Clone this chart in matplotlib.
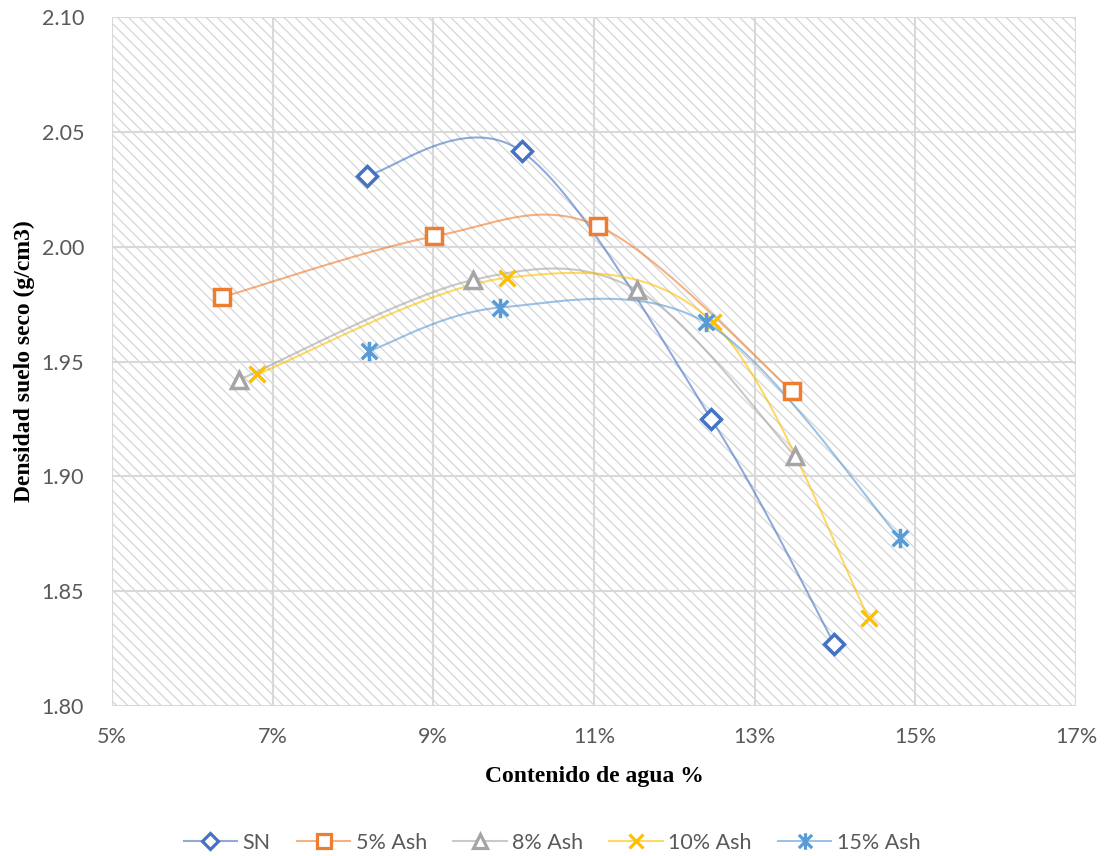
import numpy as np
import matplotlib
matplotlib.use("Agg")
import matplotlib.pyplot as plt
from matplotlib.path import Path
from matplotlib.patches import Rectangle
from matplotlib.ticker import FixedLocator, FuncFormatter

# Moisture content (%) and dry density (g/cm3) for each mix
sn_x = [8.17, 10.10, 12.46, 13.99]
sn_y = [2.031, 2.0415, 1.925, 1.827]
ash5_x = [6.37, 9.01, 11.05, 13.47]
ash5_y = [1.978, 2.0045, 2.009, 1.937]
ash8_x = [6.58, 9.49, 11.54, 13.50]
ash8_y = [1.942, 1.9855, 1.981, 1.909]
ash10_x = [6.81, 9.92, 12.48, 14.42]
ash10_y = [1.9445, 1.9865, 1.967, 1.8385]
ash15_x = [8.20, 9.83, 12.39, 14.81]
ash15_y = [1.9545, 1.9735, 1.967, 1.873]

series_names = ["SN", "5% Ash", "8% Ash", "10% Ash", "15% Ash"]
x_ticks = [5, 7, 9, 11, 13, 15, 17]
y_ticks = [1.80, 1.85, 1.90, 1.95, 2.00, 2.05, 2.10]

plt.rcParams["font.family"] = ["Lato", "DejaVu Sans"]
plt.rcParams["hatch.linewidth"] = 0.9
plt.rcParams["hatch.color"] = "#d6d6d6"

fig = plt.figure(figsize=(11.04, 8.56), dpi=100)
ax = fig.add_axes([0.1014, 0.1752, 0.8732, 0.8049])
ax.set_xlim(5, 17)
ax.set_ylim(1.80, 2.10)

# hatched plot area
ax.add_patch(Rectangle((0, 0), 1, 1, transform=ax.transAxes, facecolor="white",
                       edgecolor="#d6d6d6", hatch="\\\\\\", linewidth=0, zorder=0))

grid_c = "#d9d9d9"
for xv in x_ticks:
    ax.axvline(xv, color=grid_c, lw=1.5, zorder=1)
for yv in y_ticks:
    ax.axhline(yv, color=grid_c, lw=1.5, zorder=1)
for s in ax.spines.values():
    s.set_visible(False)

ax.xaxis.set_major_locator(FixedLocator(x_ticks))
ax.yaxis.set_major_locator(FixedLocator(y_ticks))
ax.xaxis.set_major_formatter(FuncFormatter(lambda v, p: f"{v:.0f}%"))
ax.yaxis.set_major_formatter(FuncFormatter(lambda v, p: f"{v:.2f}"))
ax.tick_params(length=0, labelsize=15.5, colors="#595959")
ax.tick_params(axis="x", pad=15)
ax.tick_params(axis="y", pad=20)

ax.set_xlabel("Contenido de agua %", family="Liberation Serif", fontweight="bold",
              fontsize=17, color="black", labelpad=14)
ax.set_ylabel("Densidad suelo seco (g/cm3)", family="Liberation Serif", fontweight="bold",
              fontsize=17, color="black", labelpad=5)


def smooth_curve(xs, ys, n=60):
    """Cardinal-spline smoothing in display space (Bezier, tension 1/6)."""
    pts = ax.transData.transform(np.column_stack([xs, ys]))
    P = np.vstack([pts[0], pts, pts[-1]])
    out = []
    t = np.linspace(0, 1, n)[:, None]
    for i in range(1, len(P) - 2):
        p0, p3 = P[i], P[i + 1]
        p1 = p0 + (P[i + 1] - P[i - 1]) / 6.0
        p2 = p3 - (P[i + 2] - P[i]) / 6.0
        seg = ((1 - t) ** 3) * p0 + 3 * ((1 - t) ** 2) * t * p1 + 3 * (1 - t) * t ** 2 * p2 + t ** 3 * p3
        out.append(seg)
    curve = np.vstack(out)
    return ax.transData.inverted().transform(curve)


# asterisk-like marker: an X crossed by a vertical bar
star_path = Path(
    [(-1, -1), (1, 1), (-1, 1), (1, -1), (0, -1.25), (0, 1.25)],
    [Path.MOVETO, Path.LINETO, Path.MOVETO, Path.LINETO, Path.MOVETO, Path.LINETO],
)

styles = [
    (sn_x, sn_y, "#4472C4", "D", 10, "none"),
    (ash5_x, ash5_y, "#ED7D31", "s", 11.5, "none"),
    (ash8_x, ash8_y, "#A5A5A5", "^", 12, "none"),
    (ash10_x, ash10_y, "#FFC000", "x", 11.5, None),
    (ash15_x, ash15_y, "#5B9BD5", star_path, 14, None),
]

handles = []
for (xs, ys, col, mk, ms, mfc), name in zip(styles, series_names):
    c = smooth_curve(xs, ys)
    ax.plot(c[:, 0], c[:, 1], color=col, lw=1.5, alpha=0.6, zorder=3)
    kw = dict(marker=mk, markersize=ms, markeredgecolor=col, markeredgewidth=2.5,
              linestyle="none", zorder=4)
    if mfc == "none":
        kw["markerfacecolor"] = "white"
    ax.plot(xs, ys, **kw)
    h, = ax.plot([], [], color=matplotlib.colors.to_rgba(col, 0.6), lw=1.5, marker=mk,
                 markersize=ms * 0.85, markeredgecolor=col, markeredgewidth=2.3,
                 markerfacecolor="white" if mfc == "none" else col)
    handles.append(h)

leg = fig.legend(handles, series_names, loc="center", bbox_to_anchor=(0.5, 1 - 843 / 856),
                 ncol=5, frameon=False, fontsize=15.5, handlelength=2.5, columnspacing=1.2,
                 handletextpad=0.25)
for t in leg.get_texts():
    t.set_color("#595959")

fig.savefig("out.png", dpi=100, facecolor="white")
